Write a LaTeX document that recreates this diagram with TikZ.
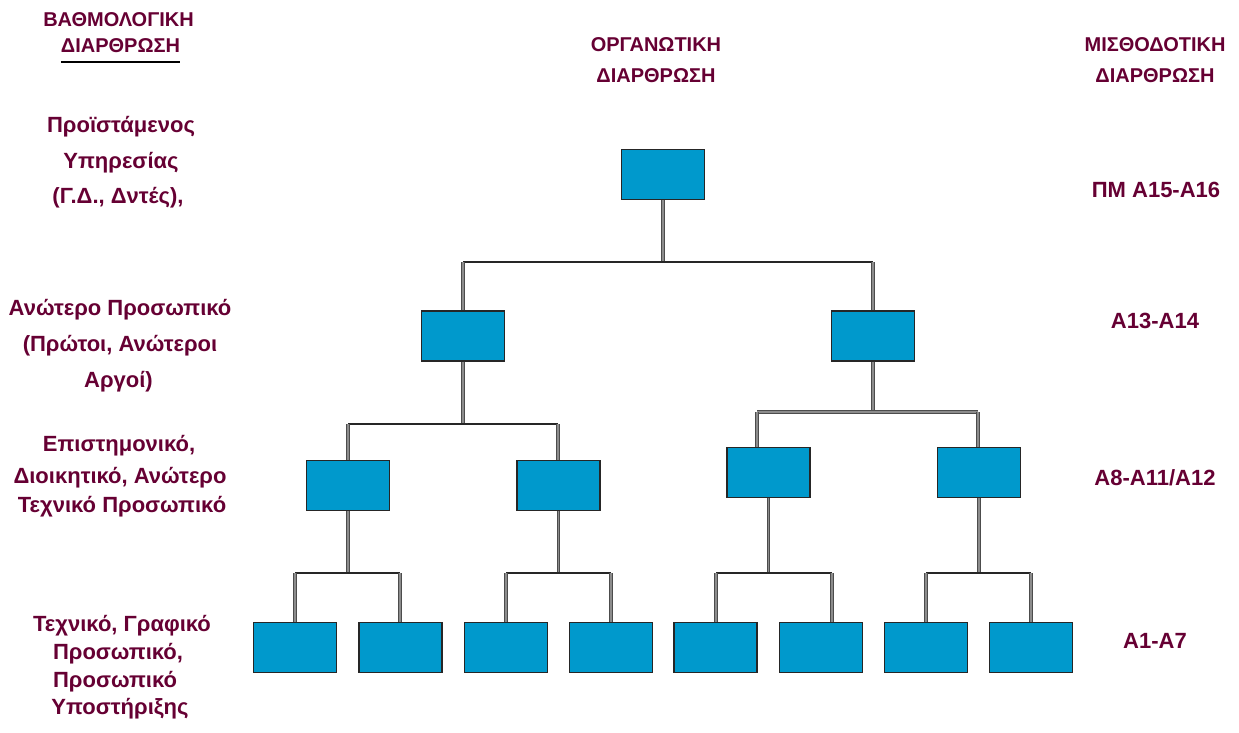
\documentclass[tikz,border=0pt]{standalone}
\usepackage{fontspec}
\setmainfont{Liberation Sans}
\definecolor{label}{RGB}{102,0,51}
\definecolor{boxfill}{RGB}{0,153,204}
\begin{document}
\begin{tikzpicture}[x=1pt,y=-1pt,
  post/.style={draw=black!85, fill=boxfill, line width=1.4pt,
    minimum width=83pt, minimum height=50pt, inner sep=0pt},
  stem/.style={draw=black!70, double=black!45, double distance=1.8pt, line width=0.7pt},
  bar/.style={draw=black!85, line width=1.5pt},
  head/.style={text=label, font=\fontsize{20}{24}\selectfont\bfseries, anchor=base, inner sep=0pt},
  rank/.style={text=label, font=\fontsize{22}{26}\selectfont\bfseries, anchor=base, inner sep=0pt},
]
\useasboundingbox (0,0) rectangle (1239,733);

% column headings
\node[head] (hl1) at (118.5,27) {ΒΑΘΜΟΛΟΓΙΚΗ};
\node[head] (hl2) at (120.5,53) {ΔΙΑΡΘΡΩΣΗ};
\draw[label, line width=2pt] (hl2.south west) ++(0,9) coordinate (ula) -- (ula -| hl2.south east);
\node[head] (hm1) at (656,52) {ΟΡΓΑΝΩΤΙΚΗ};
\node[head] (hm2) at (656,83) {ΔΙΑΡΘΡΩΣΗ};
\node[head] (hr1) at (1155,52) {ΜΙΣΘΟΔΟΤΙΚΗ};
\node[head] (hr2) at (1155,83) {ΔΙΑΡΘΡΩΣΗ};

% rank descriptions
\node[rank] (r1a) at (121,132) {Προϊστάμενος};
\node[rank] (r1b) at (121,168) {Υπηρεσίας};
\node[rank] (r1c) at (118,203) {(Γ.Δ., Δντές),};
\node[rank] (r2a) at (120,315) {Ανώτερο Προσωπικό};
\node[rank] (r2b) at (120,351) {(Πρώτοι, Ανώτεροι};
\node[rank] (r2c) at (118.5,387) {Αργοί)};
\node[rank] (r3a) at (119,451) {Επιστημονικό,};
\node[rank] (r3b) at (120,483) {Διοικητικό, Ανώτερο};
\node[rank] (r3c) at (122,512) {Τεχνικό Προσωπικό};
\node[rank] (r4a) at (122,631) {Τεχνικό, Γραφικό};
\node[rank] (r4b) at (118,659) {Προσωπικό,};
\node[rank] (r4c) at (115,687) {Προσωπικό};
\node[rank] (r4d) at (120,714) {Υποστήριξης};

% salary scales
\node[rank] (s1) at (1156,197) {ΠΜ Α15-Α16};
\node[rank] (s2) at (1155,328) {Α13-Α14};
\node[rank] (s3) at (1155,485) {Α8-Α11/Α12};
\node[rank] (s4) at (1155,648) {Α1-Α7};

% organisation chart boxes
\node[post] (top) at (663,174.5) {};
\node[post] (b2a) at (463,336) {};
\node[post] (b2b) at (873,336) {};
\node[post] (b3a) at (348,485.5) {};
\node[post] (b3b) at (558.5,485.5) {};
\node[post] (b3c) at (768.5,472.5) {};
\node[post] (b3d) at (979,472.5) {};
\node[post] (b4a) at (295,647.5) {};
\node[post] (b4b) at (400.5,647.5) {};
\node[post] (b4c) at (506,647.5) {};
\node[post] (b4d) at (611,647.5) {};
\node[post] (b4e) at (715.5,647.5) {};
\node[post] (b4f) at (821,647.5) {};
\node[post] (b4g) at (926,647.5) {};
\node[post] (b4h) at (1031,647.5) {};

% branch points
\coordinate (j0) at (663,262);  \coordinate (j0l) at (463,262);  \coordinate (j0r) at (873,262);
\coordinate (j1) at (463,424);  \coordinate (j1l) at (348,424);  \coordinate (j1r) at (558,424);
\coordinate (j2) at (873,412);  \coordinate (j2l) at (757,412);  \coordinate (j2r) at (978,412);
\coordinate (j3a) at (348,573); \coordinate (j3al) at (295,573); \coordinate (j3ar) at (400,573);
\coordinate (j3b) at (558,573); \coordinate (j3bl) at (506,573); \coordinate (j3br) at (611,573);
\coordinate (j3c) at (768,573); \coordinate (j3cl) at (716,573); \coordinate (j3cr) at (832,573);
\coordinate (j3d) at (979,573); \coordinate (j3dl) at (926,573); \coordinate (j3dr) at (1031,573);

% first level
\draw[stem] (top.south) -- (top.south |- j0);
\draw[bar] (j0l) -- (j0r);
\draw[stem] (j0l) -- (j0l |- b2a.north);
\draw[stem] (j0r) -- (j0r |- b2b.north);

% second level
\draw[stem] (b2a.south) -- (b2a.south |- j1);
\draw[bar] (j1l) -- (j1r);
\draw[stem] (j1l) -- (j1l |- b3a.north);
\draw[stem] (j1r) -- (j1r |- b3b.north);
\draw[stem] (b2b.south) -- (b2b.south |- j2);
\draw[stem] (j2l) -- (j2r);
\draw[stem] (j2l) -- (j2l |- b3c.north);
\draw[stem] (j2r) -- (j2r |- b3d.north);

% third level
\draw[stem] (b3a.south) -- (b3a.south |- j3a);
\draw[bar] (j3al) -- (j3ar);
\draw[stem] (j3al) -- (j3al |- b4a.north);
\draw[stem] (j3ar) -- (j3ar |- b4b.north);
\draw[stem] (b3b.south) -- (b3b.south |- j3b);
\draw[bar] (j3bl) -- (j3br);
\draw[stem] (j3bl) -- (j3bl |- b4c.north);
\draw[stem] (j3br) -- (j3br |- b4d.north);
\draw[stem] (b3c.south) -- (b3c.south |- j3c);
\draw[bar] (j3cl) -- (j3cr);
\draw[stem] (j3cl) -- (j3cl |- b4e.north);
\draw[stem] (j3cr) -- (j3cr |- b4f.north);
\draw[stem] (b3d.south) -- (b3d.south |- j3d);
\draw[bar] (j3dl) -- (j3dr);
\draw[stem] (j3dl) -- (j3dl |- b4g.north);
\draw[stem] (j3dr) -- (j3dr |- b4h.north);
\end{tikzpicture}
\end{document}
